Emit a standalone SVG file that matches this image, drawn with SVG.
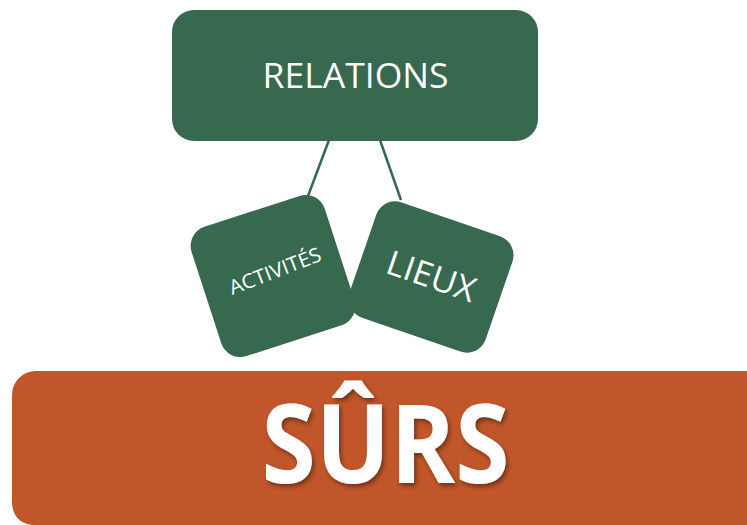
<svg xmlns="http://www.w3.org/2000/svg" width="747" height="525" viewBox="0 0 747 525">
  <defs>
    <style>
      .g { fill: #37694F; }
      .o { fill: #C1562A; }
      .t { fill: #FFFFFF; font-family: "Open Sans", "Liberation Sans", sans-serif; text-anchor: middle; }
      .c { stroke: #37694F; stroke-width: 2.5; fill: none; }
    </style>
    <filter id="sh" x="-10%" y="-10%" width="130%" height="130%">
      <feDropShadow dx="2" dy="3" stdDeviation="2" flood-color="#5a2a14" flood-opacity="0.75"/>
    </filter>
  </defs>
  <rect width="747" height="525" fill="#FFFFFF"/>
  <g id="connectors">
    <line class="c" x1="329" y1="140" x2="308" y2="196"/>
    <line class="c" x1="380" y1="140" x2="401" y2="200"/>
  </g>
  <g id="relations">
    <rect class="g" x="172" y="10" width="366" height="131" rx="22"/>
    <text class="t" x="355.5" y="87.5" font-size="34" textLength="186" lengthAdjust="spacingAndGlyphs">RELATIONS</text>
  </g>
  <g id="activites" transform="rotate(-18 273 276)">
    <rect class="g" x="203" y="208" width="140" height="136" rx="20"/>
  </g>
  <g id="activites-label">
    <text class="t" x="275" y="278" font-size="20" textLength="97" lengthAdjust="spacingAndGlyphs" transform="rotate(-21 275 271)">ACTIVITÉS</text>
  </g>
  <g id="lieux" transform="rotate(19 431 277)">
    <rect class="g" x="359" y="216" width="144" height="122" rx="20"/>
    <text class="t" x="431" y="288" font-size="34" textLength="92" lengthAdjust="spacingAndGlyphs">LIEUX</text>
  </g>
  <g id="surs">
    <rect class="o" x="12" y="371" width="760" height="154" rx="24"/>
    <path class="o" d="M12 480 L12 500 Q12 525 36 525 L60 525 L60 480 Z"/>
    <text class="t" x="385.5" y="483" font-size="110" font-weight="bold" textLength="248" lengthAdjust="spacingAndGlyphs" filter="url(#sh)">SÛRS</text>
  </g>
</svg>
